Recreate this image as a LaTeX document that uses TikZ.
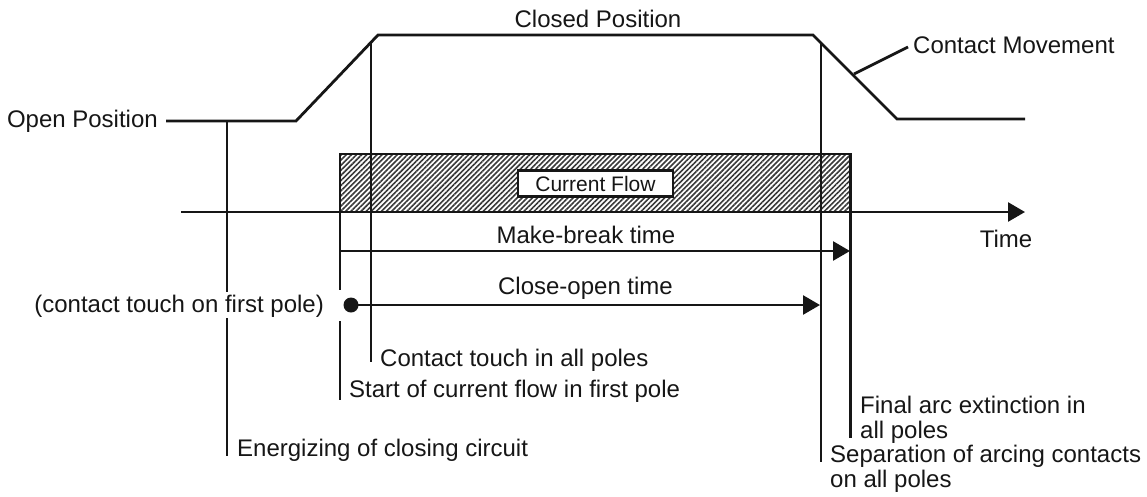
\documentclass[tikz,border=0pt]{standalone}
\usepackage{fontspec}
\setmainfont{Liberation Sans}
\usetikzlibrary{arrows.meta,patterns.meta}
\definecolor{ink}{HTML}{161616}
\tikzset{
  lbl/.style={inner sep=0pt, text=ink, font=\fontsize{24}{25.5}\selectfont},
  ln/.style={draw=ink, line width=2.8pt},
  thin/.style={draw=ink, line width=2.6pt},
  arr/.style={thin, -{Triangle[length=17pt,width=19pt]}},
  hatchbox/.style={draw=ink, line width=2.8pt, pattern={Lines[angle=45,distance=3.6pt,line width=1.6pt]}, pattern color=ink!85},
  flowbox/.style={draw=ink, line width=2.6pt, fill=white, minimum width=155pt, minimum height=26pt, inner sep=0pt, text=ink, font=\fontsize{21}{24}\selectfont}
}
\begin{document}
\begin{tikzpicture}[x=1pt,y=-1pt]
\useasboundingbox (0,0) rectangle (1147,496);
% hatched current-flow region
\path[hatchbox] (340,154) rectangle (850.7,212);
\node[flowbox] (flow) at (595.5,183.5) {Current Flow};
% labels
\node[lbl, anchor=east] (open) at (158,121) {Open Position};
\node[lbl] (closed) at (598,19) {Closed Position};
\node[lbl, anchor=west] (move) at (913,45) {Contact Movement};
\node[lbl] (time) at (1006,239) {Time};
\node[lbl] (mb) at (586,235) {Make-break time};
\node[lbl] (co) at (585.5,288) {Close-open time};
\node[lbl, anchor=east] (first) at (324,306) {(contact touch on first pole)};
\node[lbl, anchor=west] (touch) at (380,360) {Contact touch in all poles};
\node[lbl, anchor=west] (start) at (349,391) {Start of current flow in first pole};
\node[lbl, anchor=west] (energ) at (237,450) {Energizing of closing circuit};
\node[lbl, anchor=west, align=left] (final) at (860,420) {Final arc extinction in\\all poles};
\node[lbl, anchor=west, align=left] (sep) at (830,469) {Separation of arcing contacts\\on all poles};
% contact movement curve
\coordinate (c0) at (166,121);
\coordinate (c1) at (296,121);
\coordinate (c2) at (378,35);
\coordinate (c3) at (813,35);
\coordinate (c4) at (897,119);
\coordinate (c5) at (1025,119);
\draw[ln, line join=miter] (c0) -- (c1) -- (c2) -- (c3) -- (c4) -- (c5);
\coordinate (ld0) at (854,74);
\coordinate (ld1) at (908,47);
\draw[ln] (ld0) -- (ld1);
% time axis
\coordinate (ax0) at (181,212);
\coordinate (ax1) at (1025,212);
\draw[arr] (ax0) -- (ax1);
% vertical markers
\coordinate (e0) at (227,121);
\coordinate (e1) at (227,292);
\coordinate (e2) at (227,318);
\coordinate (e3) at (227,456);
\draw[thin] (e0) -- (e1);
\draw[thin] (e2) -- (e3);
\coordinate (s0) at (340,154);
\coordinate (s1) at (340,290);
\coordinate (s2) at (340,321);
\coordinate (s3) at (340,400);
\draw[thin] (s0) -- (s1);
\draw[thin] (s2) -- (s3);
\coordinate (t0) at (371,42.5);
\coordinate (t1) at (371,362);
\draw[thin] (t0) -- (t1);
\coordinate (p0) at (821,43);
\coordinate (p1) at (821,462);
\draw[thin] (p0) -- (p1);
\coordinate (f0) at (850.7,154);
\coordinate (f1) at (850.7,438);
\draw[thin] (f0) -- (f1);
% time spans
\coordinate (mb0) at (340,251);
\coordinate (mb1) at (850,251);
\draw[arr] (mb0) -- (mb1);
\node[circle, fill=ink, inner sep=0pt, minimum size=15pt] (dot) at (351,305) {};
\coordinate (co1) at (820,305);
\draw[arr] (dot.center) -- (co1);
\end{tikzpicture}
\end{document}
